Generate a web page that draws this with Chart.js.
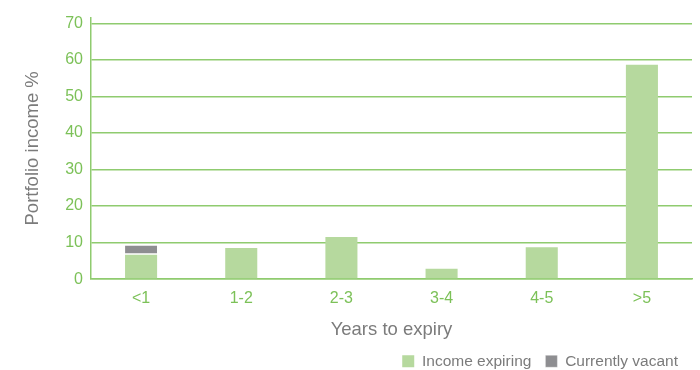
<!DOCTYPE html>
<html>
<head>
<meta charset="utf-8">
<script src="https://cdn.jsdelivr.net/npm/chart.js@4"></script>
<style>
  html, body { margin: 0; padding: 0; background: #fff; }
  #wrap { width: 700px; height: 370px; }
</style>
</head>
<body>
<div id="wrap"><canvas id="grafico_barras"></canvas></div>
<script>
let ctx = document.getElementById('grafico_barras')

// Lease expiry profile
const labels = ['<1', '1-2', '2-3', '3-4', '4-5', '>5']
const incomeExpiring = [6.7, 8.5, 11.5, 2.8, 8.7, 58.7]
const currentlyVacant = [2.5, 0, 0, 0, 0, 0]
const yTicks = [0, 10, 20, 30, 40, 50, 60, 70]

const green = '#7cc158'
const gridGreen = '#8fcb6f'
const grey = '#7b7b7b'

Chart.defaults.font.family = 'Liberation Sans, Arial, Helvetica, sans-serif'

const data = {
  labels,
  datasets: [{
    label: 'Income expiring',
    data: incomeExpiring,
    backgroundColor: '#b6d99e',
    borderWidth: 0,
    barPercentage: 0.64,
    categoryPercentage: 0.5
  }, {
    label: 'Currently vacant',
    data: currentlyVacant,
    backgroundColor: '#8e8e91',
    borderColor: '#ffffff',
    borderWidth: { top: 0, left: 0, right: 0, bottom: 1.5 },
    borderSkipped: false,
    barPercentage: 0.64,
    categoryPercentage: 0.5
  }]
}

const chart = new Chart(ctx, {
  type: 'bar',
  data: data,
  options: {
    responsive: true,
    maintainAspectRatio: false,
    animation: false,
    // negative bottom padding pulls the legend down towards the edge
    layout: { padding: { top: 9, right: 8, left: 10, bottom: -9 } },
    plugins: {
      tooltip: { enabled: false },
      legend: {
        position: 'bottom',
        align: 'end',
        labels: {
          color: grey,
          boxWidth: 12,
          boxHeight: 12,
          padding: 14,
          font: { size: 15.5 }
        }
      }
    },
    scales: {
      x: {
        stacked: true,
        grid: { display: false },
        border: { color: gridGreen, width: 1.5 },
        ticks: { color: green, font: { size: 16 }, padding: 2 },
        title: { display: true, text: 'Years to expiry', color: grey, font: { size: 18.5 }, padding: { top: 9, bottom: -2 } }
      },
      y: {
        stacked: true,
        min: 0,
        max: 71.6,
        afterBuildTicks: axis => {
          axis.ticks = yTicks.map(v => ({ value: v }))
        },
        grid: { color: gridGreen, lineWidth: 1.5, drawTicks: false },
        border: { color: gridGreen, width: 1.5 },
        ticks: { color: green, font: { size: 16 }, padding: 8 },
        title: { display: true, text: 'Portfolio income %', color: grey, font: { size: 18.5 }, padding: { top: 12, bottom: 13 } }
      }
    }
  }
})
</script>
</body>
</html>
